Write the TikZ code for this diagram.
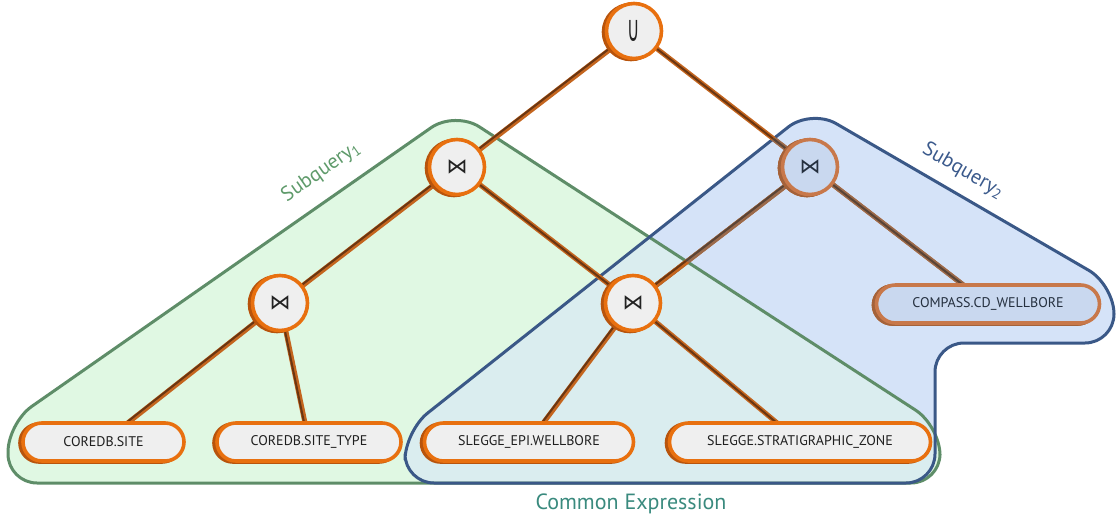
\documentclass[tikz,border=0pt]{standalone}
\usepackage{graphicx}
\usepackage{fontspec}
\setmainfont{PT Sans}
\newfontfamily\symfont{DejaVu Sans}
\usetikzlibrary{shapes.misc,shadows}
\definecolor{ring}{HTML}{E8700F}
\definecolor{ringsh}{HTML}{B8540C}
\definecolor{nfill}{HTML}{EFEFEF}
\definecolor{tring}{HTML}{C8784A}
\definecolor{tringsh}{HTML}{A4623A}
\definecolor{tfill}{HTML}{C9D8EF}
\definecolor{ttext}{HTML}{25303F}
\definecolor{edgeo}{HTML}{C4651E}
\definecolor{edged}{HTML}{6A3612}
\definecolor{tedgeo}{HTML}{9A6A4C}
\definecolor{tedged}{HTML}{5A4436}
\definecolor{gfill}{HTML}{E0F8E3}
\definecolor{gline}{HTML}{5E8D68}
\definecolor{bfill}{HTML}{D5E3F8}
\definecolor{bline}{HTML}{3A5887}
\definecolor{ofill}{HTML}{DAEDEF}
\definecolor{gtext}{HTML}{5E9A6A}
\definecolor{btext}{HTML}{3B5A8C}
\definecolor{ctext}{HTML}{3A8A7E}
\definecolor{symcol}{HTML}{222222}
\pgfdeclarelayer{bg}
\pgfdeclarelayer{edges}
\pgfsetlayers{bg,edges,main}
\tikzset{
  opnode/.style={circle, inner sep=0pt, minimum size=55pt, line width=3.6pt,
    draw=ring, fill=nfill, text=symcol, font=\symfont\fontsize{21}{21}\selectfont,
    general shadow={fill=ringsh, draw=ringsh, line width=3.6pt, shadow xshift=-3pt, shadow yshift=-1pt}},
  topnode/.style={opnode, draw=tring, fill=tfill, text=ttext,
    general shadow={fill=tringsh, draw=tringsh, line width=3.6pt, shadow xshift=-3pt, shadow yshift=-1pt}},
  tabnode/.style={rounded rectangle, inner sep=0pt, minimum height=38pt, line width=3.6pt,
    draw=ring, fill=nfill, text=black!88, font=\fontsize{14}{16}\selectfont,
    general shadow={fill=ringsh, draw=ringsh, line width=3.6pt, shadow xshift=-3pt, shadow yshift=-1pt}},
  ttabnode/.style={tabnode, draw=tring, fill=tfill, text=ttext,
    general shadow={fill=tringsh, draw=tringsh, line width=3.6pt, shadow xshift=-3pt, shadow yshift=-1pt}},
  edgeout/.style={line width=5pt, draw=edgeo},
  edgein/.style={line width=2pt, draw=edged, transform canvas={shift={(-1pt,0.6pt)}}},
  tedgeout/.style={line width=5pt, draw=tedgeo},
  tedgein/.style={line width=2pt, draw=tedged, transform canvas={shift={(-1pt,0.6pt)}}},
  region/.style={line width=3pt, rounded corners=29pt}
}
\newcommand{\linkit}[2]{\draw[edgeout] (#1.center) -- (#2.center); \draw[edgein] (#1.center) -- (#2.center);}
\newcommand{\tlinkit}[2]{\draw[tedgeout] (#1.center) -- (#2.center); \draw[tedgein] (#1.center) -- (#2.center);}
\newcommand{\greenpath}{(455,111) -- (8,423) -- (8,483) -- (940,483) -- (940,426) -- cycle}
\newcommand{\bluepath}{(811,109) -- (1114,285) -- (1114,343) -- (935,343) -- (935,483) -- (405,483) -- (405,431) -- cycle}
\begin{document}
\begin{tikzpicture}[x=1pt,y=-1pt]
\useasboundingbox (0,0) rectangle (1117,519);
% operator nodes
\node[opnode] (u) at (634,31) {\scalebox{0.6}[1.3]{\fontsize{28}{28}\selectfont ∪}};
\node[opnode] (b1) at (457,167) {⋈};
\node[opnode] (b2) at (280,303) {⋈};
\node[opnode] (b3) at (633,303) {⋈};
\node[topnode] (b4) at (810,167) {⋈};
% table nodes
\node[tabnode, minimum width=161pt] (site) at (103.5,442) {COREDB.SITE};
\node[tabnode, minimum width=184pt] (stype) at (309,442) {COREDB.SITE\_TYPE};
\node[tabnode, minimum width=209pt] (epi) at (529,442) {SLEGGE\_EPI.WELLBORE};
\node[tabnode, minimum width=261pt] (strat) at (800,442) {SLEGGE.STRATIGRAPHIC\_ZONE};
\node[ttabnode, minimum width=223pt] (comp) at (988,304) {COMPASS.CD\_WELLBORE};
% labels
\node[rotate=35, text=gtext, font=\fontsize{20.5}{21}\selectfont] (sq1) at (321,172) {Subquery\textsubscript{1}};
\node[rotate=-30, text=btext, font=\fontsize{20.5}{21}\selectfont] (sq2) at (963,171) {Subquery\textsubscript{2}};
\node[text=ctext, font=\fontsize{22}{23}\selectfont] (ce) at (631,504) {Common Expression};
% regions
\begin{pgfonlayer}{bg}
\fill[gfill, region] \greenpath;
\fill[bfill, region] \bluepath;
\begin{scope}
\clip[rounded corners=29pt] \greenpath;
\fill[ofill, region] \bluepath;
\end{scope}
\draw[gline, region] \greenpath;
\draw[bline, region] \bluepath;
\end{pgfonlayer}
% edges
\begin{pgfonlayer}{edges}
\linkit{u}{b1}
\linkit{u}{b4}
\linkit{b1}{b2}
\linkit{b1}{b3}
\linkit{b2}{site}
\linkit{b2}{stype}
\linkit{b3}{epi}
\linkit{b3}{strat}
\linkit{b4}{b3}
\linkit{b4}{comp}
\begin{scope}
\clip[rounded corners=29pt] \bluepath;
\tlinkit{u}{b4}
\tlinkit{b4}{b3}
\tlinkit{b4}{comp}
\end{scope}
\begin{scope}
\clip[rounded corners=29pt] \greenpath;
\linkit{b4}{b3}
\end{scope}
\end{pgfonlayer}
\end{tikzpicture}
\end{document}
